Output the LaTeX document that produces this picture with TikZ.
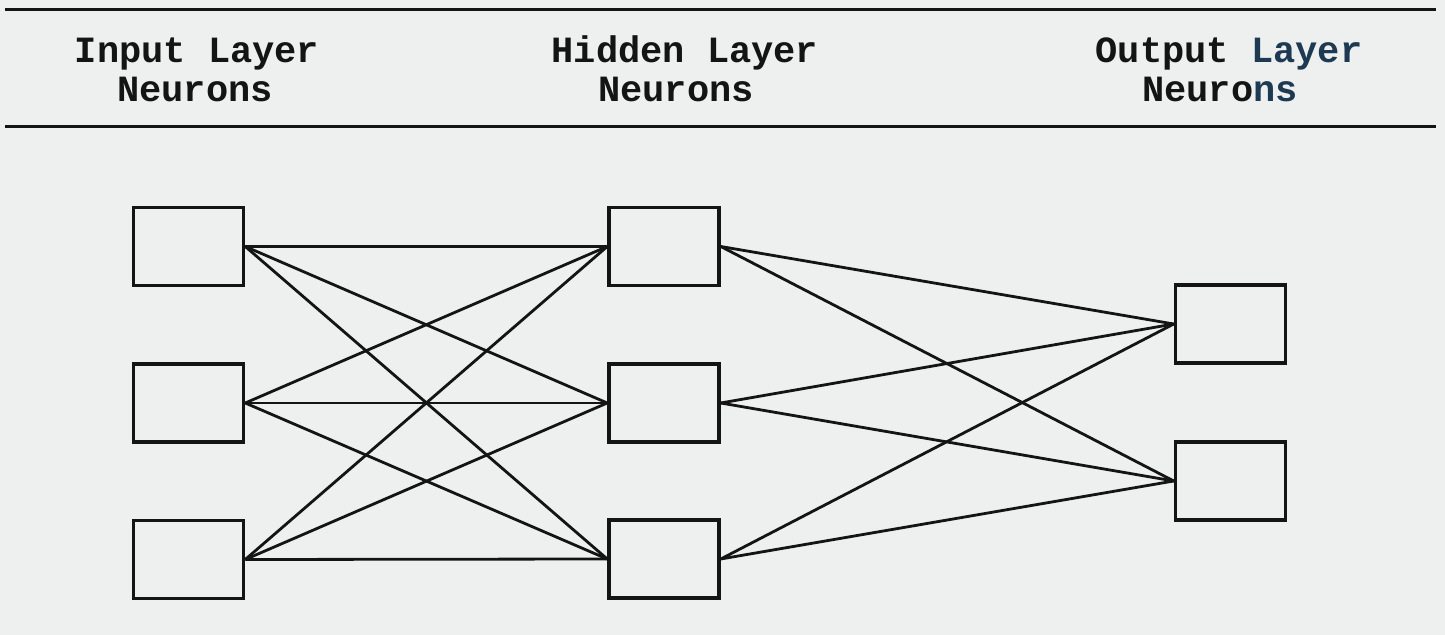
\documentclass[tikz,border=0pt]{standalone}
\usepackage{fontspec}
\setmonofont{Liberation Mono}
\definecolor{paper}{HTML}{EEF0F0}
\definecolor{ink}{HTML}{141414}
\definecolor{inkblue}{HTML}{1D3A52}
\begin{document}
\begin{tikzpicture}[x=0.5pt,y=-0.5pt,
  neuron/.style={draw=ink,line width=1.75pt,inner sep=0pt,
    minimum width=55pt,minimum height=39pt,fill=paper},
  head/.style={inner sep=0pt,anchor=base,text=ink,
    font=\ttfamily\bfseries\fontsize{18.5pt}{20pt}\selectfont},
  rule/.style={draw=ink,line width=1.5pt},
  link/.style={draw=ink,line width=1.4pt}]
  % page and its margins
  \fill[paper] (0,0) rectangle (1445,635);
  \useasboundingbox (0,0) rectangle (1445,635);

  % header rules
  \draw[rule] (5,10) -- (1436,10);
  \draw[rule] (5,127) -- (1436,127);

  % column headings
  \node[head] (inA) at (197,63) {Input Layer};
  \node[head] (inB) at (195,102) {Neurons};
  \node[head] (hidA) at (685,63) {Hidden Layer};
  \node[head] (hidB) at (676,102) {Neurons};
  \node[head] (outA) at (1229,63) {Output \textcolor{inkblue}{Layer}};
  \node[head] (outB) at (1220,102) {Neuro\textcolor{inkblue}{ns}};

  % connections (drawn first so the boxes sit on top)
  \coordinate (i1) at (246,247);
  \coordinate (i2) at (246,403);
  \coordinate (i3) at (246,560);
  \coordinate (h1l) at (608,247);
  \coordinate (h2l) at (608,405);
  \coordinate (h3l) at (608,560);

  % input neurons
  \node[neuron] (in1) at (188.5,246.5) {};
  \node[neuron] (in2) at (188.5,403) {};
  \node[neuron] (in3) at (188.5,559.5) {};
  % hidden neurons
  \node[neuron] (h1) at (664,246.5) {};
  \node[neuron] (h2) at (664,403) {};
  \node[neuron] (h3) at (664,559) {};
  % output neurons
  \node[neuron] (o1) at (1230.5,324) {};
  \node[neuron] (o2) at (1230.5,481) {};

  % input -> hidden
  \foreach \a in {in1,in2,in3}
    \foreach \b in {h1,h2,h3}
      \draw[link] (\a.east) -- (\b.west);
  % hidden -> output
  \foreach \a in {h1,h2,h3}
    \foreach \b in {o1,o2}
      \draw[link] (\a.east) -- (\b.west);
\end{tikzpicture}
\end{document}
